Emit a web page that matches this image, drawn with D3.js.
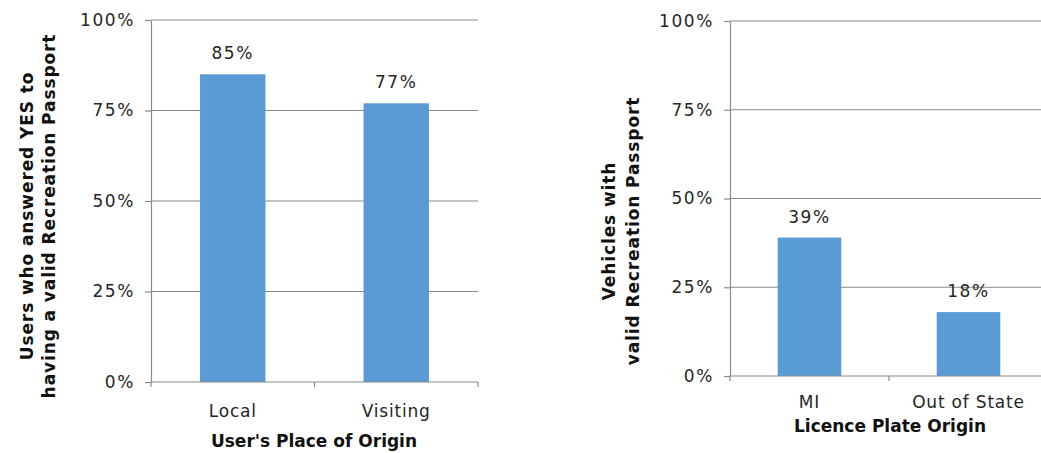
<!DOCTYPE html>
<html>
<head>
<meta charset="utf-8">
<script src="https://cdn.jsdelivr.net/npm/d3@7"></script>
<style>
  body { margin: 0; background: #fff; }
  text { font-family: "DejaVu Sans", sans-serif; }
</style>
</head>
<body>
<svg id="chart" width="1041" height="453"></svg>
<script>
// data
const leftCategories = ['Local', 'Visiting']
const leftValues = [85, 77]
const rightCategories = ['MI', 'Out of State']
const rightValues = [39, 18]
const yTicks = [0, 25, 50, 75, 100]

const svg = d3.select('#chart')
const barColor = '#5b9bd5'
const gridColor = '#8a8a8a'
const textColor = '#262626'

function drawPanel(opts) {
  const x = d3.scaleBand()
    .domain(opts.categories)
    .range([opts.x0, opts.x1])
    .paddingInner(0.6)
    .paddingOuter(0.3)
  const y = d3.scaleLinear()
    .domain([0, 100])
    .range([opts.y1, opts.y0])
  const g = svg.append('g')

  // gridlines
  g.selectAll('line.grid')
    .data(yTicks.filter(d => d > 0))
    .enter().append('line')
    .attr('x1', opts.x0).attr('x2', opts.x1)
    .attr('y1', d => y(d)).attr('y2', d => y(d))
    .attr('stroke', gridColor).attr('stroke-width', 1.2)

  // y axis
  const yAxis = g.append('g')
    .attr('transform', `translate(${opts.x0},0)`)
    .call(d3.axisLeft(y).tickValues(yTicks).tickFormat(d => d + '%').tickSize(6).tickSizeOuter(0).tickPadding(10))
  yAxis.select('.domain').attr('stroke', gridColor).attr('stroke-width', 1.2)
  yAxis.selectAll('.tick line').attr('stroke', gridColor).attr('stroke-width', 1.2)
  yAxis.selectAll('.tick text')
    .attr('font-family', 'DejaVu Sans').attr('font-size', 17)
    .attr('letter-spacing', 1.6).attr('fill', textColor)

  // bars
  g.selectAll('rect')
    .data(opts.values)
    .enter().append('rect')
    .attr('x', (d, i) => x(opts.categories[i]))
    .attr('width', x.bandwidth())
    .attr('y', d => y(d))
    .attr('height', d => y(0) - y(d))
    .attr('fill', barColor)

  // x axis line and category boundary ticks
  g.append('line')
    .attr('x1', opts.x0).attr('x2', opts.x1)
    .attr('y1', y(0)).attr('y2', y(0))
    .attr('stroke', gridColor).attr('stroke-width', 1.2)
  const edges = d3.range(opts.categories.length + 1)
    .map(i => opts.x0 + i * x.step() + (i > 0 ? 0 : 0))
  g.selectAll('line.xtick')
    .data(edges)
    .enter().append('line')
    .attr('x1', d => d).attr('x2', d => d)
    .attr('y1', y(0)).attr('y2', y(0) + 5)
    .attr('stroke', gridColor).attr('stroke-width', 1.2)

  // category labels
  g.selectAll('text.cat')
    .data(opts.categories)
    .enter().append('text')
    .attr('x', d => x(d) + x.bandwidth() / 2)
    .attr('y', y(0) + opts.catOffset)
    .attr('text-anchor', 'middle')
    .attr('font-size', 17).attr('letter-spacing', 0.8).attr('fill', textColor)
    .text(d => d)

  // value labels
  g.selectAll('text.val')
    .data(opts.values)
    .enter().append('text')
    .attr('x', (d, i) => x(opts.categories[i]) + x.bandwidth() / 2)
    .attr('y', d => y(d) - 15)
    .attr('text-anchor', 'middle')
    .attr('font-size', 17).attr('letter-spacing', 1.6).attr('fill', textColor)
    .text(d => d + '%')

  // x title
  g.append('text')
    .attr('x', opts.titleX)
    .attr('y', opts.titleY)
    .attr('text-anchor', 'middle')
    .attr('font-size', 17).attr('font-weight', 'bold').attr('fill', '#111')
    .text(opts.xTitle)

  // y title (two lines, rotated)
  const yt = g.append('text')
    .attr('transform', `translate(${opts.yTitleX},${opts.yTitleY}) rotate(-90)`)
    .attr('text-anchor', 'middle')
    .attr('font-size', 17).attr('font-weight', 'bold')
    .attr('letter-spacing', 0.9).attr('fill', '#111')
  opts.yTitle.forEach((line, i) => {
    yt.append('tspan')
      .attr('x', 0)
      .attr('dy', i === 0 ? 0 : opts.yTitleGap)
      .text(line)
  })
}

drawPanel({
  categories: leftCategories,
  values: leftValues,
  x0: 151, x1: 478, y0: 20, y1: 382,
  catOffset: 35,
  xTitle: "User's Place of Origin",
  titleX: 314, titleY: 447,
  yTitle: ['Users who answered YES to', 'having a valid Recreation Passport'],
  yTitleX: 33, yTitleY: 216, yTitleGap: 22
})

drawPanel({
  categories: rightCategories,
  values: rightValues,
  x0: 730, x1: 1048, y0: 21, y1: 376,
  catOffset: 32,
  xTitle: 'Licence Plate Origin',
  titleX: 890, titleY: 432,
  yTitle: ['Vehicles with', 'valid Recreation Passport'],
  yTitleX: 615, yTitleY: 231, yTitleGap: 24
})
</script>
</body>
</html>
